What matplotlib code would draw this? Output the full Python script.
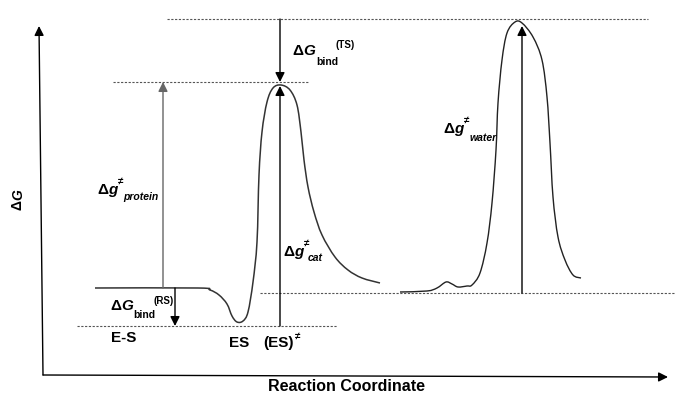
import matplotlib.pyplot as plt
from matplotlib.path import Path
from matplotlib.patches import PathPatch

plt.rcParams['font.family'] = ['Liberation Sans', 'DejaVu Sans']

# reaction profile in the enzyme (pixel coordinates)
protein_x = [95, 198, 210, 219, 227, 232, 237, 243, 248, 253, 257, 259, 262, 267, 273, 281,
             290, 297, 301, 304, 308, 314, 322, 335, 348, 362, 380]
protein_y = [288, 288, 290, 295, 304, 316, 322, 321, 312, 282, 242, 175, 132, 102, 88, 85,
             90, 105, 132, 160, 187, 212, 235, 257, 270, 278, 283]

# reaction profile in water
water_x = [400, 427, 437, 446, 452, 458, 467, 472, 480, 487, 492, 496, 498, 502, 507,
           515, 522, 533, 542, 547, 550, 553, 558, 565, 573, 581]
water_y = [292, 291, 288, 282, 284, 287, 286, 285, 273, 243, 203, 150, 103, 60, 33,
           22, 23, 37, 60, 97, 143, 197, 237, 260, 275, 278]

# reference levels: (y, x start, x end)
levels = {
    'ts_water': (19, 167, 648),
    'ts_protein': (82, 113, 308),
    'rs_water': (293, 260, 676),
    'es': (326, 77, 337),
}

fig = plt.figure(figsize=(6.76, 3.94), dpi=100)
ax = fig.add_axes([0, 0, 1, 1])
ax.set_xlim(0, 676)
ax.set_ylim(394, 0)
ax.axis('off')


def smooth_curve(xs, ys, **kw):
    # Catmull-Rom through the read points, drawn as cubic Bezier segments
    pts = list(zip(xs, ys))
    n = len(pts)
    verts = [pts[0]]
    codes = [Path.MOVETO]
    for i in range(n - 1):
        p0 = pts[max(i - 1, 0)]
        p1 = pts[i]
        p2 = pts[i + 1]
        p3 = pts[min(i + 2, n - 1)]
        c1 = (p1[0] + (p2[0] - p0[0]) / 6, p1[1] + (p2[1] - p0[1]) / 6)
        c2 = (p2[0] - (p3[0] - p1[0]) / 6, p2[1] - (p3[1] - p1[1]) / 6)
        verts += [c1, c2, p2]
        codes += [Path.CURVE4] * 3
    ax.add_patch(PathPatch(Path(verts, codes), fill=False, **kw))


for y, x0, x1 in levels.values():
    ax.plot([x0, x1], [y, y], color='#555555', lw=0.8, ls=(0, (2, 1.4)))

smooth_curve(protein_x, protein_y, edgecolor='#333333', lw=1.1)
smooth_curve(water_x, water_y, edgecolor='#222222', lw=1.0)


def arrow(x0, y0, x1, y1, color='black'):
    ax.annotate('', xy=(x1, y1), xytext=(x0, y0),
                arrowprops=dict(arrowstyle='-|>', color=color, lw=1.0,
                                mutation_scale=14, shrinkA=0, shrinkB=0))


# axes of the diagram
arrow(43, 375, 39, 26)
arrow(43, 375, 668, 377)

arrow(163, 288, 163, 82, color='#666666')   # protein barrier
arrow(175, 288, 175, 326)                     # binding RS
arrow(280, 19, 280, 82)                       # binding TS
arrow(280, 326, 280, 86)                      # catalytic barrier
arrow(522, 293, 522, 26)                      # water barrier

big = dict(fontsize=11, fontweight='bold', va='baseline', ha='left')
sub = dict(fontsize=7.5, fontweight='bold', va='baseline', ha='left')
sup = dict(fontsize=7, fontweight='bold', va='baseline', ha='left')

# ΔG_bind (TS)
ax.text(292, 55, 'Δ', **big)
ax.text(303, 55, 'G', style='italic', **big)
ax.text(316, 65, 'bind', **sub)
ax.text(336, 48, '(TS)', **sup)

# ΔG_bind (RS)
ax.text(110, 310, 'Δ', **big)
ax.text(121, 310, 'G', style='italic', **big)
ax.text(133, 318, 'bind', **sub)
ax.text(153, 304, '(RS)', **sup)

# Δg≠ labels: (x, baseline, name, subscript x shift, subscript y shift)
for x, y, name, dx, dy in [(97, 194, 'protein', 26, 6), (283, 256, 'cat', 25, 5),
                           (443, 133, 'water', 27, 8)]:
    ax.text(x, y, 'Δ', **big)
    ax.text(x + 11, y, 'g', style='italic', **big)
    ax.text(x + 21, y - 10, '≠', **sup)
    ax.text(x + dx, y + dy, name, style='italic', **sub)

ax.text(111, 342, 'E-S', fontsize=11, fontweight='bold', va='baseline')
ax.text(229, 347, 'ES', fontsize=11, fontweight='bold', va='baseline')
ax.text(263, 347, '(ES)', fontsize=11, fontweight='bold', va='baseline')
ax.text(295, 339, '≠', fontsize=7, fontweight='bold', va='baseline')

ax.text(347, 391, 'Reaction Coordinate', fontsize=11.5, fontweight='bold',
        ha='center', va='baseline')
ax.text(18, 200, 'Δ', fontsize=10, fontweight='bold', rotation=90,
        ha='center', va='top')
ax.text(18, 200, 'G', fontsize=10, fontweight='bold', style='italic',
        rotation=90, ha='center', va='bottom')

fig.savefig('out.png', dpi=100)
